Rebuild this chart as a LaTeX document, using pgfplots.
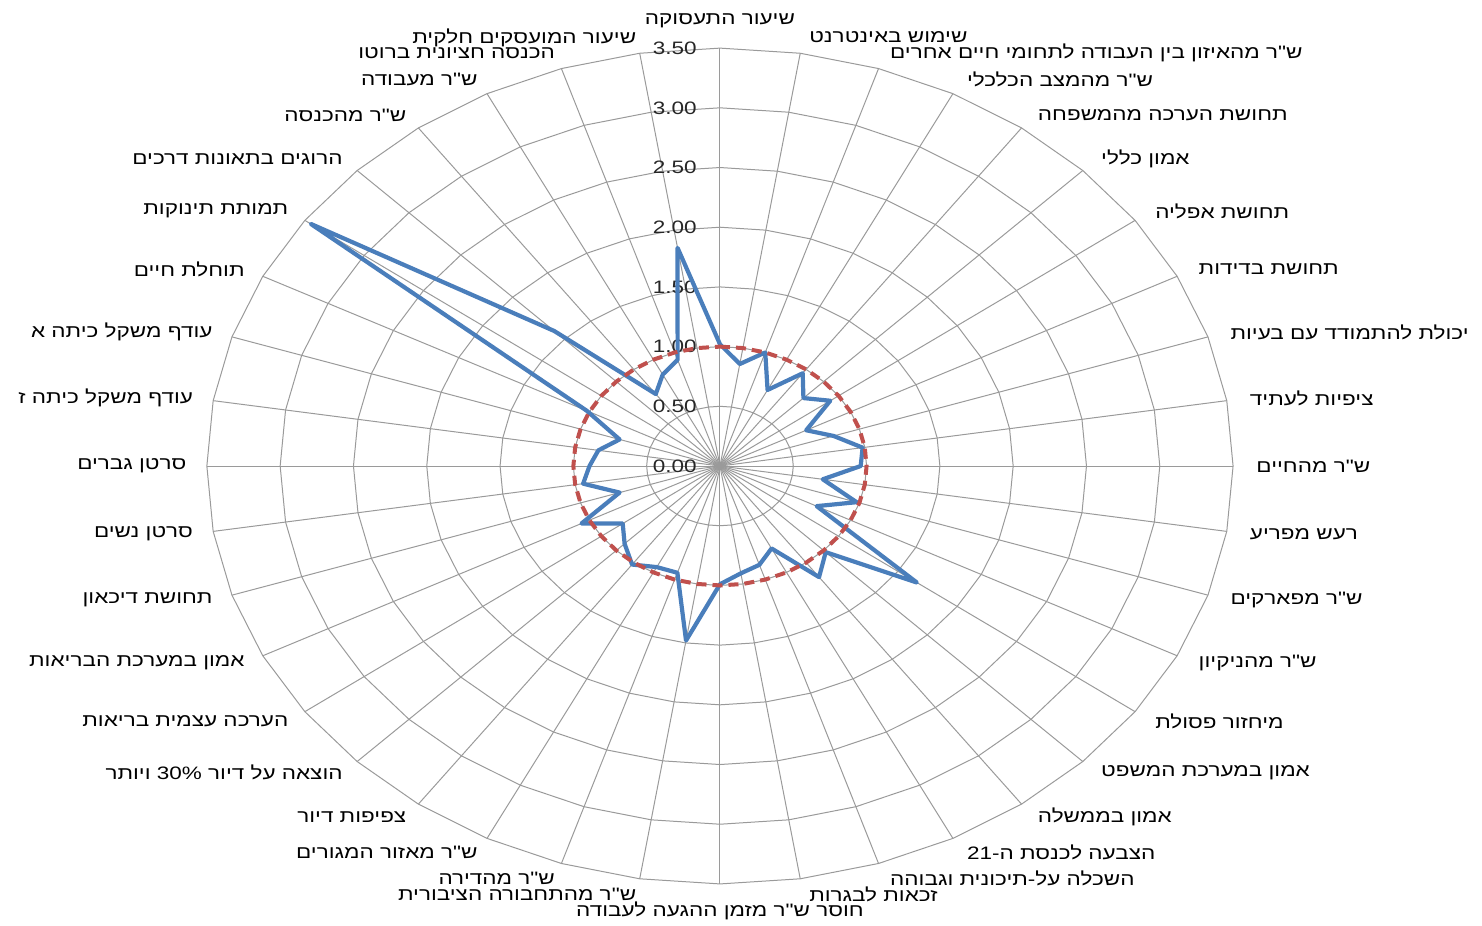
\documentclass[border=0pt]{standalone}
\usepackage{graphicx}
\usepackage{fontspec}
\setmainfont{Liberation Sans}
\newfontfamily\heb[Script=Hebrew]{Liberation Sans}
\usepackage{pgfplots}
\usepackage{pgfplotstable}
\pgfplotsset{compat=1.18}
\TeXXeTstate=1

\definecolor{seriesblue}{HTML}{4A7EBB}
\definecolor{refred}{HTML}{C0504D}
\definecolor{gridc}{HTML}{9A9A9A}

% i = category (9 degrees each, clockwise from top), v = value, r = reference line
\pgfplotstableread{
i v r
0 1.02 1
1 0.865 1
2 1.00 1
3 0.715 1
4 0.96 1
5 0.805 1
6 0.93 1
7 0.66 1
8 0.815 1
9 0.985 1
10 0.96 1
11 0.71 1
12 0.98 1
13 0.74 1
14 1.66 1
15 1.02 1
16 1.15 1
17 0.775 1
18 0.87 1
19 0.91 1
20 0.99 1
21 1.48 1
22 0.94 1
23 0.95 1
24 1.02 1
25 0.92 1
26 0.82 1
27 1.06 1
28 0.72 1
29 0.945 1
30 0.89 1
31 0.84 1
32 0.72 1
33 1.02 1
34 3.45 1
35 1.60 1
36 0.745 1
37 0.86 1
38 0.935 1
39 1.85 1
40 1.02 1
}\radar

\newcommand\sx[1]{\scalebox{1.25}[1]{#1}}
\newcommand\labR[2]{\node[lbl,anchor=west,xshift={3+8.5*sin(9*#1)},yshift={8*cos(9*#1)}]
  at (axis cs:{3.5*sin(9*#1)},{3.5*cos(9*#1)}) {\sx{\heb #2}};}
\newcommand\labL[2]{\node[lbl,anchor=east,xshift={10*sin(9*#1)},yshift={8*cos(9*#1)}]
  at (axis cs:{3.5*sin(9*#1)},{3.5*cos(9*#1)}) {\sx{\heb #2}};}

\begin{document}
\begin{tikzpicture}[lbl/.style={inner sep=0pt,font=\fontsize{9}{11}\selectfont,text=black}]
\begin{axis}[
    x=73.3pt, y=59.7pt,
    xmin=-4.911, xmax=5.198,
    ymin=-3.844, ymax=3.903,
    hide axis,
    clip=false,
]
\path (axis cs:-4.911,-3.844) rectangle (axis cs:5.198,3.903);

% spokes
\pgfplotsinvokeforeach{0,...,39}{
  \draw[gridc,line width=0.5pt] (axis cs:0,0) -- (axis cs:{3.5*sin(9*#1)},{3.5*cos(9*#1)});
}
% rings
\pgfplotsinvokeforeach{0.5,1.0,1.5,2.0,2.5,3.0,3.5}{
  \draw[gridc,line width=0.5pt] (axis cs:0,#1)
    \foreach \k in {1,...,39}{ -- (axis cs:{#1*sin(9*\k)},{#1*cos(9*\k)}) } -- cycle;
}

% value labels
\pgfplotsinvokeforeach{0.00,0.50,1.00,1.50,2.00,2.50,3.00,3.50}{
  \node[lbl,anchor=east,xshift=-11.5pt,text=black!85] at (axis cs:0,#1) {\sx{#1}};
}

\addplot[seriesblue, line width=2.1pt, line join=round]
  table[x expr={\thisrow{v}*sin(9*\thisrow{i})}, y expr={\thisrow{v}*cos(9*\thisrow{i})}] {\radar};
\addplot[refred, line width=2pt, dash pattern=on 5pt off 3pt]
  table[x expr={\thisrow{r}*sin(9*\thisrow{i})}, y expr={\thisrow{r}*cos(9*\thisrow{i})}] {\radar};

% category labels
\node[lbl,anchor=south,yshift=10pt] at (axis cs:0,3.5) {\sx{\heb\beginR שיעור התעסוקה\endR}};
\labR{1}{\beginR שימוש באינטרנט\endR}
\labR{2}{\beginR ש"ר מהאיזון בין העבודה לתחומי חיים אחרים\endR}
\labR{3}{\beginR ש"ר מהמצב הכלכלי\endR}
\labR{4}{\beginR תחושת הערכה מהמשפחה\endR}
\labR{5}{\beginR אמון כללי\endR}
\labR{6}{\beginR תחושת אפליה\endR}
\labR{7}{\beginR תחושת בדידות\endR}
\labR{8}{\beginR יכולת להתמודד עם בעיות\endR}
\labR{9}{\beginR ציפיות לעתיד\endR}
\labR{10}{\beginR ש"ר מהחיים\endR}
\labR{11}{\beginR רעש מפריע\endR}
\labR{12}{\beginR ש"ר מפארקים\endR}
\labR{13}{\beginR ש"ר מהניקיון\endR}
\labR{14}{\beginR מיחזור פסולת\endR}
\labR{15}{\beginR אמון במערכת המשפט\endR}
\labR{16}{\beginR אמון בממשלה\endR}
\labR{17}{\beginR הצבעה לכנסת ה-\beginL 21\endL\endR}
\labR{18}{\beginR השכלה על-תיכונית וגבוהה\endR}
\labR{19}{\beginR זכאות לבגרות\endR}
\node[lbl,anchor=north,yshift=-9pt] at (axis cs:0,-3.5) {\sx{\heb\beginR חוסר ש"ר מזמן ההגעה לעבודה\endR}};
\labL{21}{\beginR ש"ר מהתחבורה הציבורית\endR}
\labL{22}{\beginR ש"ר מהדירה\endR}
\labL{23}{\beginR ש"ר מאזור המגורים\endR}
\labL{24}{\beginR צפיפות דיור\endR}
\labL{25}{\beginR הוצאה על דיור \beginL 30\%\endL{} ויותר\endR}
\labL{26}{\beginR הערכה עצמית בריאות\endR}
\labL{27}{\beginR אמון במערכת הבריאות\endR}
\labL{28}{\beginR תחושת דיכאון\endR}
\labL{29}{\beginR סרטן נשים\endR}
\labL{30}{\beginR סרטן גברים\endR}
\labL{31}{\beginR עודף משקל כיתה ז\endR}
\labL{32}{\beginR עודף משקל כיתה א\endR}
\labL{33}{\beginR תוחלת חיים\endR}
\labL{34}{\beginR תמותת תינוקות\endR}
\labL{35}{\beginR הרוגים בתאונות דרכים\endR}
\labL{36}{\beginR ש"ר מהכנסה\endR}
\labL{37}{\beginR ש"ר מעבודה\endR}
\labL{38}{\beginR הכנסה חציונית ברוטו\endR}
\labL{39}{\beginR שיעור המועסקים חלקית\endR}
\end{axis}
\end{tikzpicture}
\end{document}
